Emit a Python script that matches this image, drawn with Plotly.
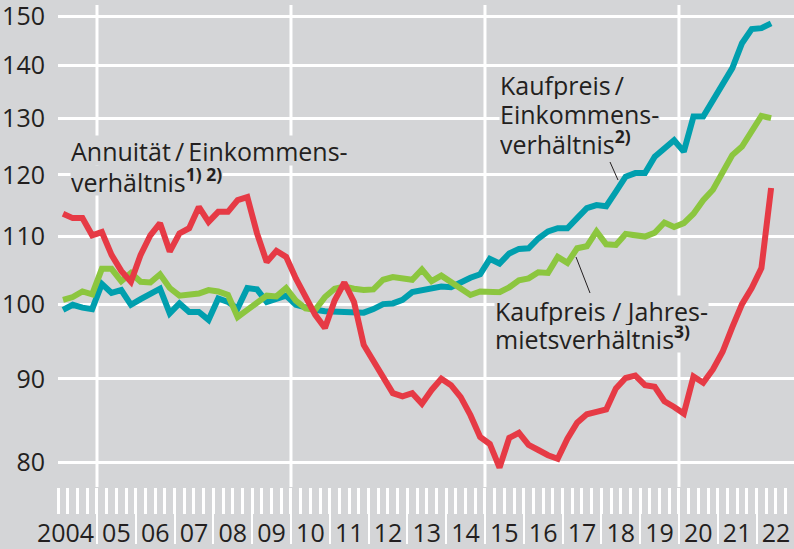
import plotly.graph_objects as go

# ---------------- data ----------------
quarters = [f"{y} Q{q}" for y in range(2004, 2023) for q in (1, 2, 3, 4)][:74]

annuitaet_einkommen = [
    113.6, 112.9, 112.9, 110.2, 110.7, 107.2, 104.8, 103.2,
    107.2, 110.2, 112.1, 107.7, 110.5, 111.3, 114.7, 112.3,
    113.9, 113.9, 115.8, 116.3, 110.5, 106.1, 107.8, 106.9,
    103.7, 101.1, 98.5, 96.7, 100.5, 103.1, 100.3, 94.4,
    92.3, 90.3, 88.2, 87.8, 88.2, 86.9, 88.6, 90.0,
    89.2, 87.7, 85.5, 82.9, 82.1, 79.4, 82.8, 83.4,
    82.0, 81.4, 80.8, 80.4, 82.7, 84.6, 85.6, 85.9,
    86.2, 88.8, 90.1, 90.4, 89.2, 89.0, 87.2, 86.5,
    85.7, 90.3, 89.5, 91.2, 93.5, 96.8, 100.0, 102.3,
    105.2, 117.8,
]

kaufpreis_einkommen = [
    99.2, 99.9, 99.5, 99.3, 102.9, 101.6, 102.0, 99.9,
    100.7, 101.5, 102.2, 98.7, 100.1, 98.9, 98.9, 97.8,
    100.8, 100.3, 99.4, 102.3, 102.1, 100.3, 100.8, 101.2,
    99.9, 99.5, 99.2, 99.0, 98.9, 98.8, 98.7, 98.8,
    99.3, 100.0, 100.1, 100.6, 101.7, 101.9, 102.3, 102.5,
    102.4, 103.2, 103.8, 104.3, 106.6, 105.9, 107.4, 108.1,
    108.2, 109.7, 110.8, 111.3, 111.3, 112.9, 114.5, 115.0,
    114.8, 117.2, 119.7, 120.3, 120.3, 123.1, 124.6, 126.0,
    124.0, 130.3, 130.3, 133.2, 136.6, 139.5, 144.5, 147.4,
    147.6, 148.6,
]

kaufpreis_miete = [
    100.6, 101.0, 101.8, 101.4, 105.1, 105.1, 103.3, 104.5,
    103.2, 103.1, 104.3, 102.3, 101.2, 101.3, 101.5, 102.0,
    101.8, 101.3, 98.2, 99.2, 100.3, 101.2, 101.1, 102.3,
    100.5, 99.4, 99.2, 101.0, 102.2, 102.5, 102.2, 102.0,
    102.1, 103.5, 103.9, 103.8, 103.5, 105.0, 103.3, 104.1,
    103.1, 102.2, 101.3, 101.8, 101.7, 101.7, 102.4, 103.4,
    103.7, 104.6, 104.5, 106.9, 106.0, 108.2, 108.5, 110.8,
    108.8, 108.7, 110.4, 110.2, 110.0, 110.6, 112.2, 111.5,
    112.1, 113.6, 115.8, 117.5, 120.3, 123.4, 124.9, 127.5,
    130.4, 130.0,
]

years = list(range(2004, 2023))
year_labels = ["2004", "05", "06", "07", "08", "09", "10", "11", "12", "13",
               "14", "15", "16", "17", "18", "19", "20", "21", "22"]
y_ticks = [80, 90, 100, 110, 120, 130, 140, 150]
highlight_years = [2005, 2010, 2015, 2020]

# ---------------- style ----------------
BG = "#d4d5d7"
TXT = "#231f20"
RED = "#e63a45"
TEAL = "#009fae"
GREEN = "#8cc63f"
FONT = "Open Sans"
FS = 25

W, H = 794, 549
ML, MT, MB = 58, 5, 62
PW, PH = W - ML, H - MT - MB


def qpos(label):
    y, q = label.split(" Q")
    return int(y) + (int(q) - 0.5) / 4


x = [qpos(q) for q in quarters]


def px(xp):
    return (xp - ML) / PW


def py(yp):
    return (H - MB - yp) / PH


fig = go.Figure()
for vals, col in [(kaufpreis_einkommen, TEAL), (kaufpreis_miete, GREEN),
                  (annuitaet_einkommen, RED)]:
    fig.add_trace(go.Scatter(x=x, y=vals, mode="lines",
                             line=dict(color=col, width=6),
                             hoverinfo="skip", showlegend=False))

# invisible trace for the label axis
fig.add_trace(go.Scatter(x=[years[0], years[-1] + 1], y=[100, 100], mode="none",
                         xaxis="x2", hoverinfo="skip", showlegend=False))

# label positions: centred on each year, the first one pulled left of 2005
label_pos = [y + 0.5 for y in years]
label_pos[0] = years[0] + 0.19

xr = [2003.995, 2022.965]
fig.update_layout(
    width=W, height=H,
    margin=dict(l=ML, r=0, t=MT, b=MB, autoexpand=False),
    paper_bgcolor=BG, plot_bgcolor=BG,
    font=dict(family=FONT, size=FS, color=TXT),
    xaxis=dict(range=xr, showgrid=False, zeroline=False, showline=False,
               automargin=False,
               tickmode="array", tickvals=[y + 1 for y in years],
               ticks="outside", ticklen=56, tickwidth=2, tickcolor="white",
               showticklabels=False,
               minor=dict(tickmode="linear", tick0=2004, dtick=0.25,
                          ticks="outside", ticklen=26, tickwidth=3,
                          tickcolor="white", showgrid=False)),
    xaxis2=dict(range=xr, overlaying="x", anchor="y", side="bottom",
                automargin=False, tickangle=0, ticklabeloverflow="allow",
                showgrid=False, zeroline=False, showline=False,
                tickmode="array", tickvals=label_pos,
                ticktext=year_labels, ticks="", ticklabelstandoff=29,
                tickfont=dict(family=FONT, size=FS, color=TXT)),
    yaxis=dict(type="log", range=[1.88796, 2.18326], automargin=False,
               tickmode="array", tickvals=y_ticks,
               ticktext=[str(v) for v in y_ticks],
               ticklabeloverflow="allow",
               showgrid=True, gridcolor="white", gridwidth=3,
               zeroline=False, showline=False, ticks="",
               ticklabelstandoff=12,
               tickfont=dict(family=FONT, size=FS, color=TXT)),
)

for yr in highlight_years:
    fig.add_shape(type="line", xref="x", yref="paper", x0=yr, x1=yr, y0=0, y1=1,
                  line=dict(color="white", width=3), layer="below")

labels = [
    ("Annuität\u2009/\u2009Einkommens-", 70, 150),
    ("verhältnis<sup><b>1) 2)</b></sup>", 70, 180),
    ("Kaufpreis\u2009/", 499, 85),
    ("Einkommens-", 499, 114),
    ("verhältnis<sup><b>2)</b></sup>", 499, 142),
    ("Kaufpreis / Jahres-", 494, 310),
    ("mietsverhältnis<sup><b>3)</b></sup>", 494, 337),
]
# lower lines first, so each upper line's box never hides its own descenders
for text, lx, cy in reversed(labels):
    fig.add_annotation(text=text, xref="paper", yref="paper", x=px(lx), y=py(cy),
                       xanchor="left", yanchor="middle", showarrow=False,
                       bgcolor=BG, borderpad=0, height=29,
                       font=dict(family=FONT, size=FS, color=TXT))

for (x0, y0, x1, y1) in [(610, 162, 618, 180), (576, 257, 590, 293)]:
    fig.add_shape(type="line", xref="paper", yref="paper",
                  x0=px(x0), y0=py(y0), x1=px(x1), y1=py(y1),
                  line=dict(color=TXT, width=1))

fig.write_html(
    "out.html",
    config={"displayModeBar": False, "staticPlot": True},
    post_script="document.body.style.margin='0';"
                "document.body.style.overflow='hidden';"
                "document.documentElement.style.overflow='hidden';",
)
